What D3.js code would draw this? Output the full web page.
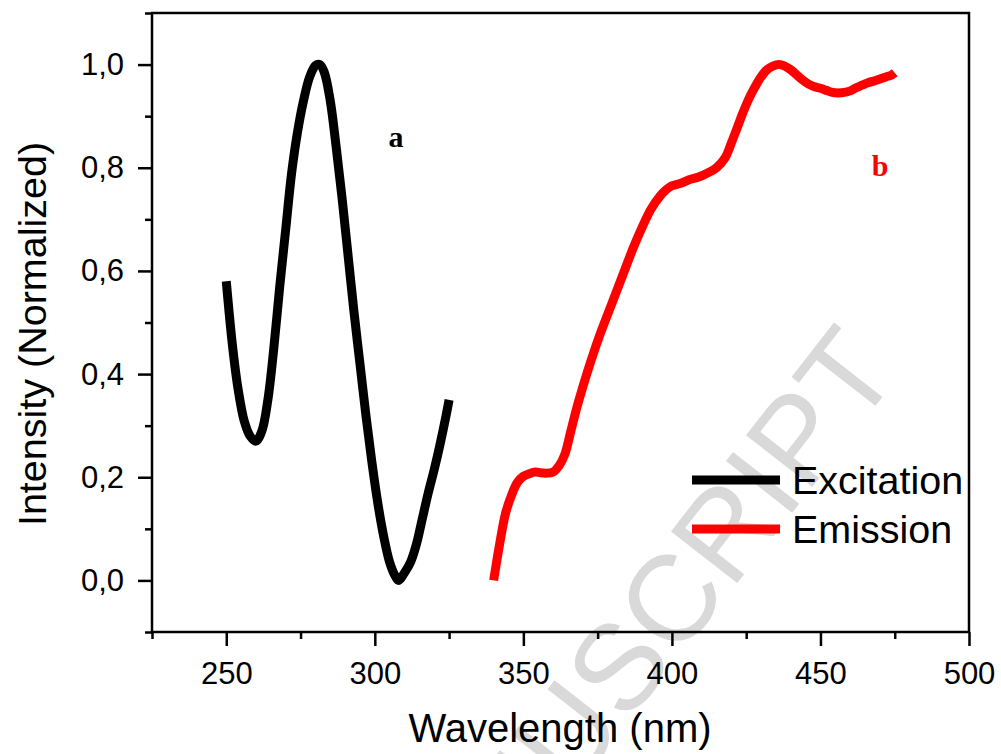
<!DOCTYPE html>
<html>
<head>
<meta charset="utf-8">
<script src="https://cdn.jsdelivr.net/npm/d3@7"></script>
<style>
  body { margin: 0; background: #fff; }
  svg { display: block; font-family: "Liberation Sans", Arial, sans-serif; }
</style>
</head>
<body>
<svg width="1001" height="754"></svg>
<script>
// excitation spectrum (curve a)
var excitationNm = [250, 252, 254, 256, 258, 260, 262, 264, 266, 268, 270, 272, 274, 276, 278, 280, 281.5, 283, 285, 287, 289, 291, 293, 295, 297, 299, 301, 303, 305, 307, 308, 310, 312, 314, 316, 318, 320, 322, 324, 325];
var excitationInt = [0.58, 0.46, 0.37, 0.31, 0.28, 0.27, 0.29, 0.35, 0.45, 0.57, 0.68, 0.79, 0.87, 0.93, 0.975, 0.998, 1.0, 0.985, 0.93, 0.84, 0.74, 0.63, 0.52, 0.42, 0.32, 0.23, 0.15, 0.085, 0.035, 0.007, 0.0, 0.015, 0.035, 0.07, 0.12, 0.17, 0.215, 0.265, 0.32, 0.35];

// emission spectrum (curve b)
var emissionNm = [340, 342, 344, 346, 348, 350, 352, 354, 357, 360, 362, 364, 366, 368, 370, 373, 376, 380, 384, 387, 390, 393, 396, 398, 400, 403, 406, 409, 412, 415, 418, 420, 422, 424, 426, 428, 430, 432, 434, 436, 438, 440, 442, 444, 446, 448, 450, 452, 454, 456, 458, 460, 462, 464, 466, 468, 470, 472, 474, 475];
var emissionInt = [0.0, 0.07, 0.13, 0.165, 0.19, 0.202, 0.207, 0.21, 0.208, 0.21, 0.222, 0.245, 0.29, 0.335, 0.375, 0.43, 0.48, 0.54, 0.6, 0.645, 0.685, 0.72, 0.745, 0.757, 0.765, 0.77, 0.777, 0.782, 0.79, 0.8, 0.82, 0.848, 0.878, 0.908, 0.935, 0.957, 0.976, 0.99, 0.997, 1.0, 0.997, 0.99, 0.98, 0.97, 0.962, 0.957, 0.954, 0.95, 0.946, 0.945, 0.946, 0.949, 0.955, 0.96, 0.965, 0.968, 0.972, 0.976, 0.98, 0.984];

var xMajor = [250, 300, 350, 400, 450, 500];
var xMinor = [225, 275, 325, 375, 425, 475];
var yMajor = [0, 0.2, 0.4, 0.6, 0.8, 1.0];
var yMinor = [-0.1, 0.1, 0.3, 0.5, 0.7, 0.9, 1.1];

var seriesNames = ["Excitation", "Emission"];
var seriesColors = ["#000000", "#ff0000"];

(function () {
  'use strict';

  var svg = d3.select("svg");

  var x = d3.scaleLinear().domain([225, 500]).range([152, 969]);
  var y = d3.scaleLinear().domain([-0.1, 1.1]).range([632, 13]);

  var fmt = function(d) { return d3.format(".1f")(d).replace(".", ","); };

  // watermark behind everything
  svg.append("text")
      .attr("transform", "translate(902,372) rotate(-52)")
      .attr("text-anchor", "end")
      .attr("font-size", 122)
      .attr("fill", "#d9d9d9")
      .text("ACCEPTED MANUSCRIPT");

  // axes: major ticks with labels, minor ticks without
  var gx = svg.append("g").attr("transform", "translate(0,632)")
      .call(d3.axisBottom(x).tickValues(xMajor).tickSize(14).tickSizeOuter(0).tickPadding(16).tickFormat(d3.format("d")));
  var gx2 = svg.append("g").attr("transform", "translate(0,632)")
      .call(d3.axisBottom(x).tickValues(xMinor).tickSize(7).tickSizeOuter(0).tickFormat(""));
  var gy = svg.append("g").attr("transform", "translate(152,0)")
      .call(d3.axisLeft(y).tickValues(yMajor).tickSize(14).tickSizeOuter(0).tickPadding(14).tickFormat(fmt));
  var gy2 = svg.append("g").attr("transform", "translate(152,0)")
      .call(d3.axisLeft(y).tickValues(yMinor).tickSize(7).tickSizeOuter(0).tickFormat(""));

  [gx, gx2, gy, gy2].forEach(function(g) {
    g.select(".domain").remove();
    g.selectAll(".tick line").attr("stroke", "#000").attr("stroke-width", 2.5);
    g.selectAll("text").attr("font-size", 31).attr("fill", "#000").attr("font-family", "Liberation Sans, Arial, sans-serif");
  });

  // frame
  svg.append("rect")
      .attr("x", x(225)).attr("y", y(1.1))
      .attr("width", x(500) - x(225)).attr("height", y(-0.1) - y(1.1))
      .attr("fill", "none").attr("stroke", "#000").attr("stroke-width", 2.5);

  var line = d3.line()
      .x(function(d) { return x(d[0]); })
      .y(function(d) { return y(d[1]); })
      .curve(d3.curveCatmullRom.alpha(0.5));

  var series = [d3.zip(excitationNm, excitationInt), d3.zip(emissionNm, emissionInt)];

  svg.selectAll("path.spec")
      .data(series)
      .enter().append("path")
      .attr("class", "spec")
      .attr("d", line)
      .attr("fill", "none")
      .attr("stroke", function(d, i) { return seriesColors[i]; })
      .attr("stroke-width", 9)
      .attr("stroke-linejoin", "round");

  // curve labels
  svg.append("text").attr("x", 396).attr("y", 147).attr("text-anchor", "middle")
      .attr("font-family", "Liberation Serif, Times New Roman, serif").attr("font-weight", "bold")
      .attr("font-size", 30).attr("fill", "#000").text("a");
  svg.append("text").attr("x", 880).attr("y", 176).attr("text-anchor", "middle")
      .attr("font-family", "Liberation Serif, Times New Roman, serif").attr("font-weight", "bold")
      .attr("font-size", 30).attr("fill", "#ff0000").text("b");

  // legend
  var legend = svg.append("g").selectAll("g")
      .data(seriesNames)
      .enter().append("g")
      .attr("transform", function(d, i) { return "translate(692," + (480 + i * 49) + ")"; });
  legend.append("line")
      .attr("x1", 0).attr("x2", 88)
      .attr("stroke", function(d, i) { return seriesColors[i]; })
      .attr("stroke-width", 9);
  legend.append("text")
      .attr("x", 100).attr("y", 14)
      .attr("font-size", 39.5).attr("fill", "#000")
      .text(function(d) { return d; });

  // axis titles
  svg.append("text").attr("x", 560).attr("y", 742).attr("text-anchor", "middle")
      .attr("font-size", 40).attr("fill", "#000").text("Wavelength (nm)");
  svg.append("text").attr("transform", "translate(46,334) rotate(-90)").attr("text-anchor", "middle")
      .attr("font-size", 39.5).attr("fill", "#000").text("Intensity (Normalized)");
}());
</script>
</body>
</html>
